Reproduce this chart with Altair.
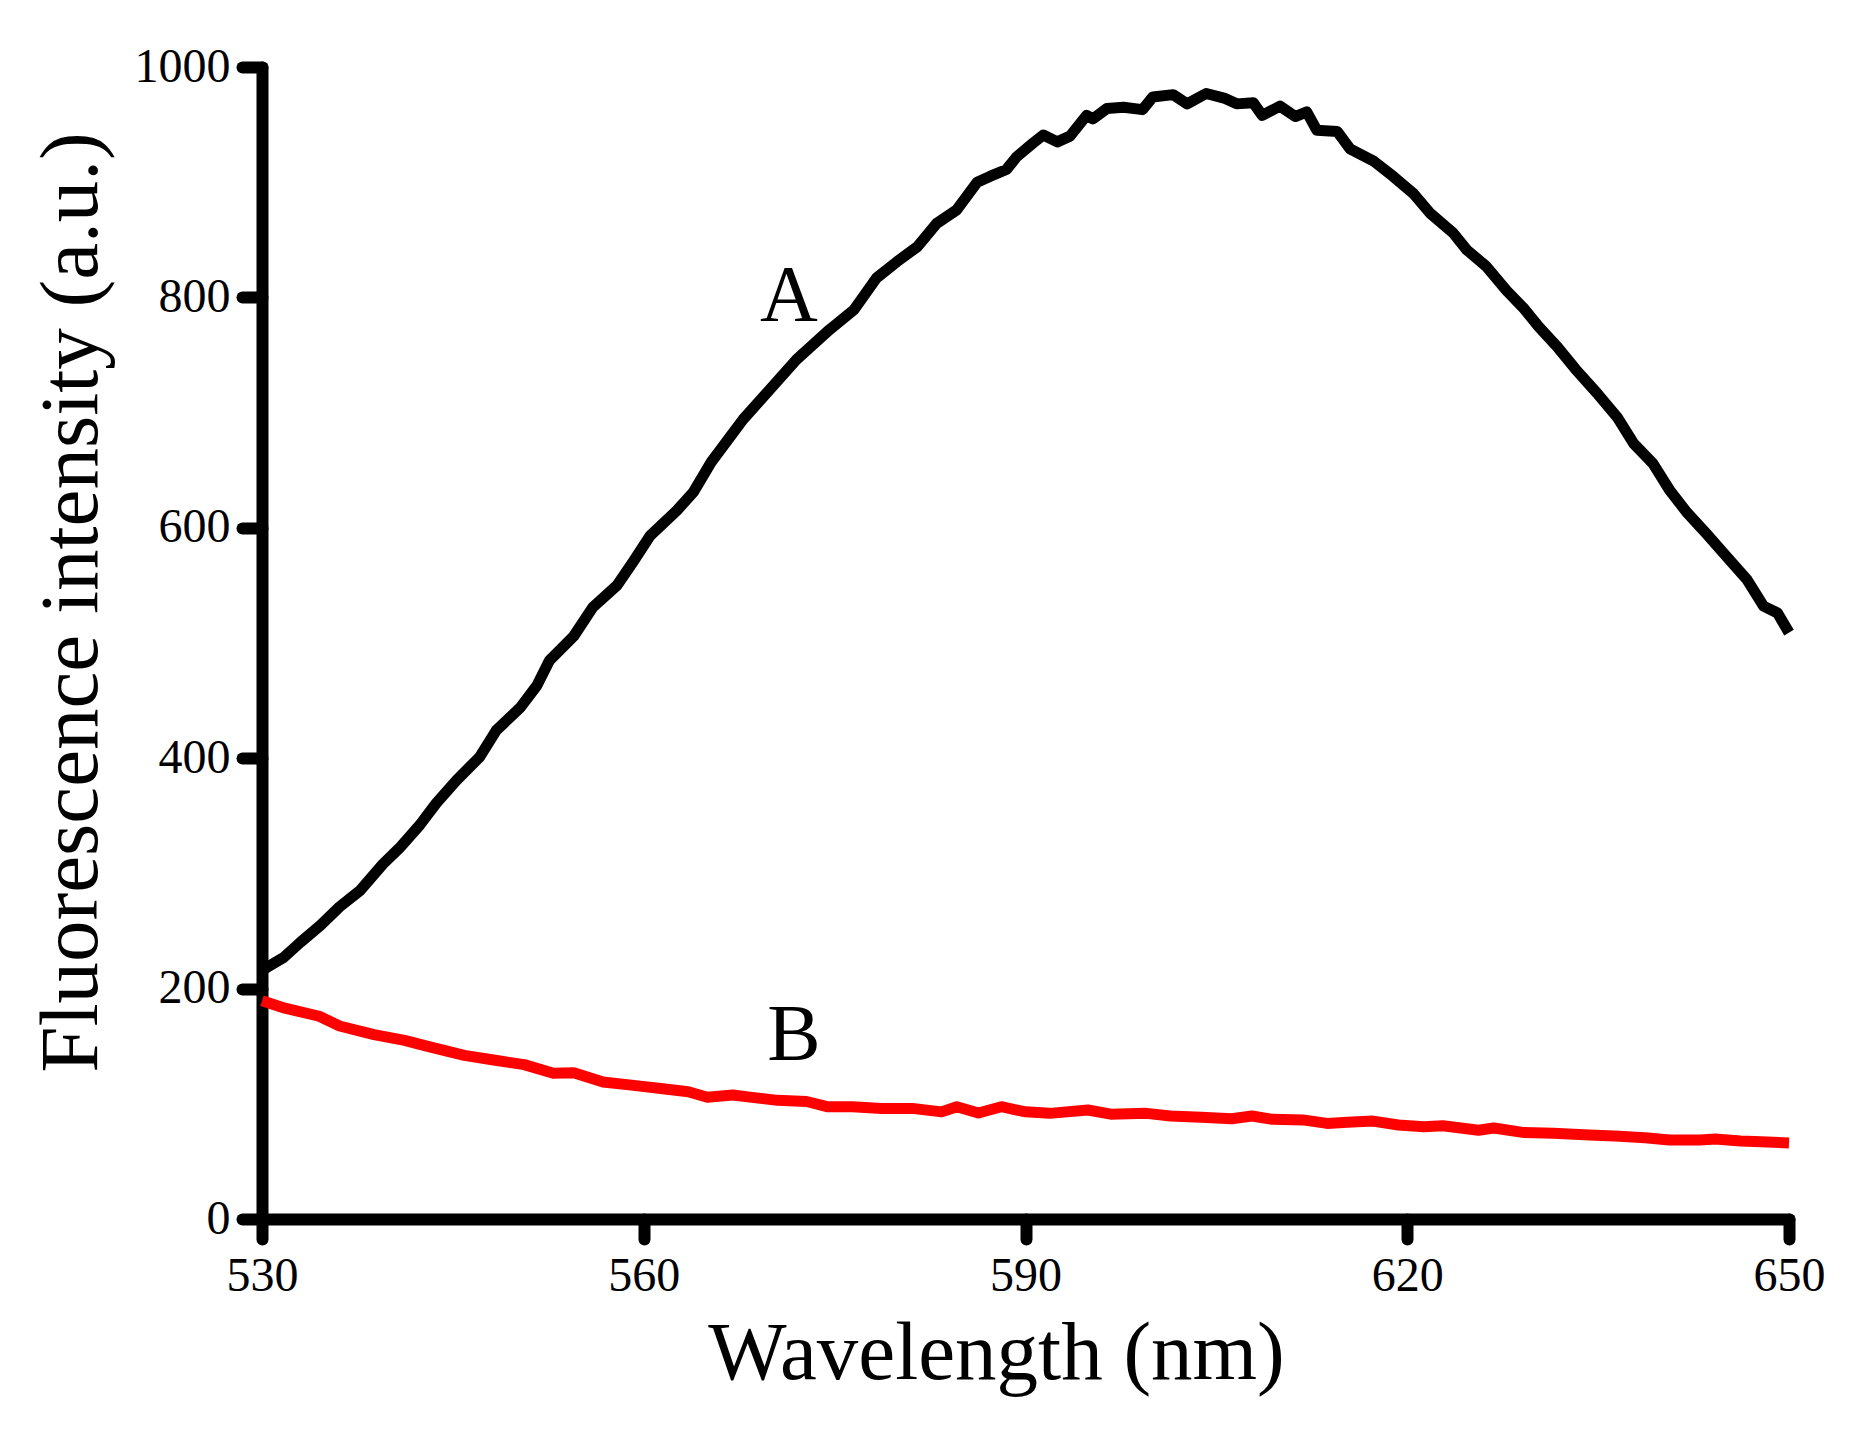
import altair as alt
import pandas as pd

# Curve A (black)
a_wl = [530.0, 531.7, 533.0, 534.6, 536.1, 537.7, 539.5, 540.8, 542.4, 543.7, 545.3, 547.1,
        548.4, 550.3, 551.6, 552.6, 554.5, 556.0, 557.9, 559.2, 560.5, 562.6, 563.9, 565.3,
        567.8, 569.9, 572.0, 574.6, 576.5, 578.3, 579.9, 581.5, 583.0, 584.6, 586.2, 587.2,
        588.5, 589.3, 590.6, 591.4, 592.5, 593.5, 594.8, 595.3, 596.4, 597.7, 599.2, 600.0,
        601.6, 602.7, 604.2, 605.6, 606.6, 607.9, 608.6, 610.0, 611.2, 612.1, 612.9, 614.5,
        615.5, 617.4, 618.9, 620.5, 621.8, 623.6, 624.7, 626.2, 627.8, 629.2, 630.3, 631.8,
        633.2, 634.9, 636.5, 637.8, 639.3, 640.6, 642.0, 643.5, 645.1, 646.7, 648.0, 649.1, 650.0]
a_val = [216, 227, 240, 255, 271, 285, 308, 322, 342, 361, 381, 401,
         424, 444, 463, 485, 506, 531, 550, 571, 593, 615, 631, 657,
         694, 720, 746, 772, 789, 817, 831, 844, 864, 876, 900, 905,
         911, 922, 934, 941, 935, 940, 958, 955, 964, 965, 963, 974,
         976, 968, 977, 973, 968, 969, 958, 966, 957, 961, 945, 944,
         929, 918, 905, 890, 873, 856, 841, 827, 806, 790, 775, 757,
         738, 717, 696, 673, 656, 633, 613, 595, 575, 555, 532, 526, 509]

# Curve B (red)
b_wl = [530.0, 531.8, 534.5, 536.1, 538.8, 541.2, 543.1, 545.9, 548.2, 550.6, 552.9, 554.5,
        556.8, 559.2, 561.5, 563.5, 565.0, 567.0, 568.5, 570.5, 572.8, 574.4, 576.4, 578.7,
        581.1, 583.4, 584.6, 586.3, 588.1, 590.0, 591.9, 594.9, 596.7, 599.5, 601.4, 603.8,
        606.2, 607.8, 609.4, 611.8, 613.7, 615.3, 617.3, 619.3, 621.3, 622.8, 625.6, 626.8,
        629.2, 631.5, 634.3, 636.3, 638.7, 640.6, 643.0, 644.2, 646.2, 647.8, 650.0]
b_val = [189.5, 183, 176, 167.5, 160, 155, 149.6, 142, 138, 134, 126.5, 127,
         119, 116, 113, 110.5, 105.6, 107.6, 105.6, 103, 102, 97.5, 97.5, 96,
         96, 93, 97.5, 92, 97.5, 93, 91.7, 94.6, 91, 91.7, 89.4, 88.3,
         87, 89.4, 86.5, 86, 83, 84, 85, 81.6, 80, 81, 77, 79,
         75, 74.4, 73, 72, 70.6, 68.6, 68.6, 69.4, 67.7, 67, 66]

x_ticks = [530, 560, 590, 620, 650]
y_ticks = [0, 200, 400, 600, 800, 1000]

label_text = ["A", "B"]
label_wl = [571.4, 571.8]
label_val = [800, 159]

FONT = "Liberation Serif"

df_a = pd.DataFrame({"wl": a_wl, "val": a_val})
df_b = pd.DataFrame({"wl": b_wl, "val": b_val})
df_lab = pd.DataFrame({"wl": label_wl, "val": label_val, "text": label_text})

xscale = alt.Scale(domain=[530, 650], nice=False, zero=False)
yscale = alt.Scale(domain=[0, 1000], nice=False)

xaxis = alt.Axis(
    values=x_ticks, title="Wavelength (nm)", grid=False, format="d",
    domainColor="black", domainWidth=12, domainCap="round",
    tickColor="black", tickWidth=12, tickSize=20, tickCap="round",
    labelFont=FONT, labelFontSize=48, labelColor="black", labelPadding=13,
    labelFlush=False, labelOverlap=False,
    titleFont=FONT, titleFontSize=83, titleFontWeight="normal", titleColor="black",
    titleX=734, titleY=159, titleBaseline="alphabetic", titleAnchor="start",
    titleAlign="center",
)
yaxis = alt.Axis(
    values=y_ticks, title="Fluorescence intensity (a.u.)", grid=False, format="d",
    domainColor="black", domainWidth=12, domainCap="round",
    tickColor="black", tickWidth=12, tickSize=20, tickCap="round",
    labelFont=FONT, labelFontSize=48, labelColor="black", labelPadding=12,
    labelFlush=False, labelOverlap=False,
    titleFont=FONT, titleFontSize=83, titleFontWeight="normal", titleColor="black",
    titleX=-166, titleY=535, titleAngle=270, titleBaseline="alphabetic",
    titleAlign="center", titleAnchor="start",
)

line_a = alt.Chart(df_a).mark_line(color="black", strokeWidth=11, strokeJoin="round").encode(
    x=alt.X("wl:Q", scale=xscale, axis=xaxis),
    y=alt.Y("val:Q", scale=yscale, axis=yaxis),
)
line_b = alt.Chart(df_b).mark_line(color="#ff0000", strokeWidth=11, strokeJoin="round").encode(
    x=alt.X("wl:Q", scale=xscale),
    y=alt.Y("val:Q", scale=yscale),
)
labels = alt.Chart(df_lab).mark_text(
    font=FONT, fontSize=80, color="black", align="center", baseline="middle"
).encode(
    x=alt.X("wl:Q", scale=xscale),
    y=alt.Y("val:Q", scale=yscale),
    text="text:N",
)

chart = alt.layer(line_a, line_b, labels).properties(
    width=1527, height=1152,
    autosize=alt.AutoSizeParams(type="none"),
    padding={"left": 254, "top": 59, "right": 50, "bottom": 200},
    background="white",
).configure_view(stroke=None)

chart.save("out.html", embed_options={"renderer": "svg", "actions": False})
